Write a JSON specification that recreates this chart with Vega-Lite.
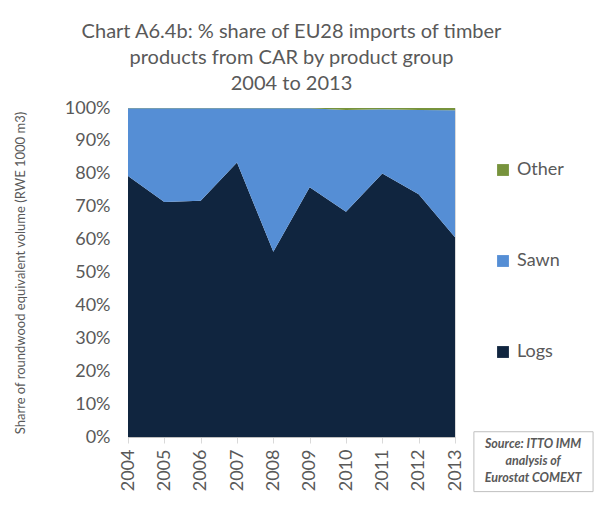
{
  "$schema": "https://vega.github.io/schema/vega-lite/v6.json",
  "autosize": {"type": "none"},
  "width": 327,
  "height": 329,
  "padding": {"left": 128, "top": 108, "right": 145, "bottom": 70},
  "background": "white",
  "config": {
    "font": "Lato",
    "view": {"stroke": "#D9D9D9", "strokeWidth": 1},
    "axisX": {
      "values": [2004, 2005, 2006, 2007, 2008, 2009, 2010, 2011, 2012, 2013],
      "format": "d",
      "labelAngle": -90,
      "labelAlign": "right",
      "labelBaseline": "middle",
      "labelFontSize": 18,
      "labelColor": "#595959",
      "labelPadding": 6,
      "labelOverlap": false,
      "labelFlush": false,
      "tickColor": "#D9D9D9",
      "tickSize": 6,
      "domainColor": "#BFBFBF",
      "grid": false
    },
    "axisY": {
      "values": [0, 0.1, 0.2, 0.3, 0.4, 0.5, 0.6, 0.7, 0.8, 0.9, 1],
      "format": ".0%",
      "labelFontSize": 18,
      "labelColor": "#595959",
      "labelPadding": 18,
      "labelOverlap": false,
      "labelFlush": false,
      "ticks": false,
      "domainColor": "#BFBFBF",
      "grid": false,
      "titleFontSize": 13,
      "titleFontWeight": "normal",
      "titleColor": "#595959",
      "titlePadding": 37
    }
  },
  "title": {
    "text": ["Chart A6.4b: % share of EU28 imports of timber", "products from CAR by product group", "2004 to 2013"],
    "fontSize": 20,
    "fontWeight": "normal",
    "color": "#595959",
    "lineHeight": 26,
    "anchor": "middle",
    "offset": 5
  },
  "datasets": {
    "shares": [
      {"year": 2004, "product": "Logs", "share": 0.793, "ord": 1},
      {"year": 2005, "product": "Logs", "share": 0.714, "ord": 1},
      {"year": 2006, "product": "Logs", "share": 0.718, "ord": 1},
      {"year": 2007, "product": "Logs", "share": 0.834, "ord": 1},
      {"year": 2008, "product": "Logs", "share": 0.563, "ord": 1},
      {"year": 2009, "product": "Logs", "share": 0.759, "ord": 1},
      {"year": 2010, "product": "Logs", "share": 0.685, "ord": 1},
      {"year": 2011, "product": "Logs", "share": 0.801, "ord": 1},
      {"year": 2012, "product": "Logs", "share": 0.738, "ord": 1},
      {"year": 2013, "product": "Logs", "share": 0.607, "ord": 1},
      {"year": 2004, "product": "Sawn", "share": 0.206, "ord": 2},
      {"year": 2005, "product": "Sawn", "share": 0.285, "ord": 2},
      {"year": 2006, "product": "Sawn", "share": 0.281, "ord": 2},
      {"year": 2007, "product": "Sawn", "share": 0.165, "ord": 2},
      {"year": 2008, "product": "Sawn", "share": 0.436, "ord": 2},
      {"year": 2009, "product": "Sawn", "share": 0.240, "ord": 2},
      {"year": 2010, "product": "Sawn", "share": 0.309, "ord": 2},
      {"year": 2011, "product": "Sawn", "share": 0.195, "ord": 2},
      {"year": 2012, "product": "Sawn", "share": 0.256, "ord": 2},
      {"year": 2013, "product": "Sawn", "share": 0.386, "ord": 2},
      {"year": 2004, "product": "Other", "share": 0.001, "ord": 3},
      {"year": 2005, "product": "Other", "share": 0.001, "ord": 3},
      {"year": 2006, "product": "Other", "share": 0.001, "ord": 3},
      {"year": 2007, "product": "Other", "share": 0.001, "ord": 3},
      {"year": 2008, "product": "Other", "share": 0.001, "ord": 3},
      {"year": 2009, "product": "Other", "share": 0.001, "ord": 3},
      {"year": 2010, "product": "Other", "share": 0.006, "ord": 3},
      {"year": 2011, "product": "Other", "share": 0.004, "ord": 3},
      {"year": 2012, "product": "Other", "share": 0.006, "ord": 3},
      {"year": 2013, "product": "Other", "share": 0.007, "ord": 3}
    ],
    "source": [
      {"x1": 2013.52, "x2": 2016.8, "y1": 0.016, "y2": -0.166}
    ],
    "sourceText": [
      {"x": 2015.15, "y": -0.022, "label": "Source: ITTO IMM"},
      {"x": 2015.15, "y": -0.074, "label": "analysis of"},
      {"x": 2015.15, "y": -0.126, "label": "Eurostat COMEXT"}
    ]
  },
  "layer": [
    {
      "data": {"name": "shares"},
      "mark": {"type": "area", "line": false},
      "encoding": {
        "x": {
          "field": "year",
          "type": "quantitative",
          "scale": {"domain": [2004, 2013], "nice": false, "zero": false},
          "axis": {"title": null}
        },
        "y": {
          "field": "share",
          "type": "quantitative",
          "stack": "normalize",
          "scale": {"domain": [0, 1], "nice": false},
          "axis": {"title": "Sharre of roundwood equivalent volume (RWE 1000 m3)"}
        },
        "color": {
          "field": "product",
          "type": "nominal",
          "scale": {"domain": ["Other", "Sawn", "Logs"], "range": ["#77933C", "#558ED5", "#10253F"]},
          "legend": {
            "orient": "none",
            "legendX": 366,
            "legendY": 53,
            "title": null,
            "symbolType": "square",
            "symbolSize": 140,
            "symbolStrokeWidth": 0,
            "labelFontSize": 18,
            "labelColor": "#595959",
            "rowPadding": 73,
            "labelOffset": 5
          }
        },
        "order": {"field": "ord", "type": "quantitative"}
      }
    },
    {
      "data": {"name": "source"},
      "mark": {"type": "rect", "fill": "white", "stroke": "#BFBFBF", "strokeWidth": 1},
      "encoding": {
        "x": {"field": "x1", "type": "quantitative", "axis": {"title": null}},
        "x2": {"field": "x2"},
        "y": {"field": "y1", "type": "quantitative", "axis": {"title": "Sharre of roundwood equivalent volume (RWE 1000 m3)"}},
        "y2": {"field": "y2"}
      }
    },
    {
      "data": {"name": "sourceText"},
      "mark": {"type": "text", "fontSize": 12.5, "fontStyle": "italic", "fontWeight": "bold", "color": "#595959", "align": "center", "baseline": "middle"},
      "encoding": {
        "x": {"field": "x", "type": "quantitative", "axis": {"title": null}},
        "y": {"field": "y", "type": "quantitative", "axis": {"title": "Sharre of roundwood equivalent volume (RWE 1000 m3)"}},
        "text": {"field": "label"}
      }
    }
  ]
}
